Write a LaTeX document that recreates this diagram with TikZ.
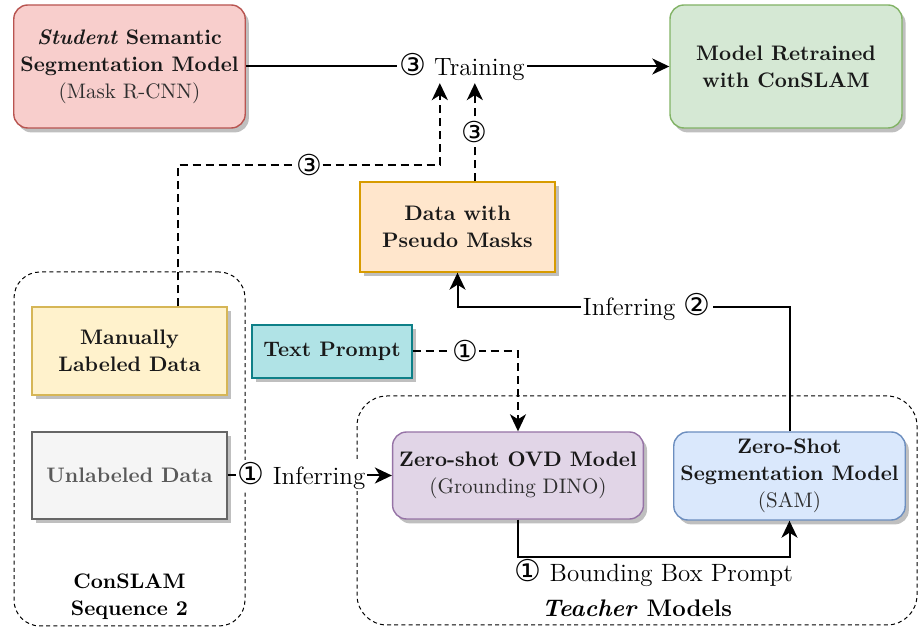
\documentclass[tikz,border=0pt]{standalone}
\usepackage{fontspec}
\newfontfamily\circfont[Scale=1.2]{DejaVu Sans}
\usepackage{tikz}
\usetikzlibrary{arrows.meta,calc,positioning,shadows}

\definecolor{redfill}{HTML}{F8CECC}
\definecolor{redline}{HTML}{B85450}
\definecolor{greenfill}{HTML}{D5E8D4}
\definecolor{greenline}{HTML}{82B366}
\definecolor{orangefill}{HTML}{FFE6CC}
\definecolor{orangeline}{HTML}{D79B00}
\definecolor{yellowfill}{HTML}{FFF2CC}
\definecolor{yellowline}{HTML}{D6B656}
\definecolor{grayfill}{HTML}{F5F5F5}
\definecolor{grayline}{HTML}{666666}
\definecolor{tealfill}{HTML}{B0E3E6}
\definecolor{tealline}{HTML}{0E8088}
\definecolor{purplefill}{HTML}{E1D5E7}
\definecolor{purpleline}{HTML}{9673A6}
\definecolor{bluefill}{HTML}{DAE8FC}
\definecolor{blueline}{HTML}{6C8EBF}

\newcommand{\circone}{{\circfont ①}}
\newcommand{\circtwo}{{\circfont ②}}
\newcommand{\circthree}{{\circfont ③}}

\begin{document}
\begin{tikzpicture}[x=0.5pt,y=-0.5pt,
  box/.style={draw, line width=0.7pt, align=center, font=\fontsize{10.5}{13.5}\selectfont\bfseries, text=black!90,
    drop shadow={shadow xshift=1.8pt, shadow yshift=-2.2pt, fill=black!25, opacity=1}},
  rbox/.style={box, rounded corners=7pt},
  group/.style={draw, dash pattern=on 2pt off 1.6pt, line width=0.5pt, inner sep=0pt},
  flow/.style={line width=1pt, -{Stealth[length=8.5pt,width=8pt,inset=2.5pt]}},
  dflow/.style={flow, dash pattern=on 4pt off 2.5pt},
  num/.style={fill=white, inner sep=0.3pt, font=\large},
  lbl/.style={fill=white, inner sep=1pt, font=\fontsize{12.5}{15}\selectfont}]

  \useasboundingbox (0,0) rectangle (918,630);

  % groups
  \node[group, rounded corners=13pt, minimum width=115.5pt, minimum height=177pt] (conslam) at (129.5,449) {};
  \node[font=\fontsize{10.5}{13.5}\selectfont\bfseries, align=center, above=0pt of conslam.south] (conslamlbl) {ConSLAM\\Sequence 2};
  \node[group, rounded corners=15pt, minimum width=280pt, minimum height=114.5pt] (teacher) at (637,510.5) {};
  \node[font=\large\bfseries, above=1pt of teacher.south] (teacherlbl) {\textit{Teacher} Models};

  % boxes
  \node[rbox, fill=redfill, draw=redline, minimum width=115.5pt, minimum height=61.5pt] (student) at (129.5,66.5)
    {\textit{Student} Semantic\\Segmentation Model\\{\mdseries\color{black!82}(Mask R-CNN)}};
  \node[rbox, fill=greenfill, draw=greenline, minimum width=116pt, minimum height=61.5pt] (retrained) at (786,66.5)
    {Model Retrained\\with ConSLAM};
  \node[box, fill=orangefill, draw=orangeline, minimum width=97.5pt, minimum height=45pt] (data) at (457.5,227)
    {Data with\\Pseudo Masks};
  \node[box, fill=yellowfill, draw=yellowline, minimum width=97.5pt, minimum height=44pt] (manual) at (129.5,351)
    {Manually\\Labeled Data};
  \node[box, fill=grayfill, draw=grayline, text=black!65, minimum width=97.5pt, minimum height=43.5pt] (unlabeled) at (129.5,475.5)
    {Unlabeled Data};
  \node[box, fill=tealfill, draw=tealline, minimum width=80pt, minimum height=26.5pt] (prompt) at (332,351.5)
    {Text Prompt};
  \node[rbox, fill=purplefill, draw=purpleline, minimum width=125pt, minimum height=43.5pt] (ovd) at (518,475.5)
    {Zero-shot OVD Model\\{\mdseries\color{black!82}(Grounding DINO)}};
  \node[rbox, fill=bluefill, draw=blueline, minimum width=115.5pt, minimum height=44pt] (sam) at (789.5,476)
    {Zero-Shot\\Segmentation Model\\{\mdseries\color{black!82}(SAM)}};

  % connectors
  \draw[flow] (student) -- node[lbl, pos=0.51] (train) {\circthree{} Training} (retrained);

  \coordinate (turn3) at (178,165);
  \coordinate (tin1) at ($(train.south)+(-22,0)$);
  \coordinate (tin2) at ($(train.south)+(13,0)$);
  \draw[dflow] (manual.north -| turn3) -- (turn3) -- node[num] {\circthree} (turn3 -| tin1) -- (tin1);
  \draw[dflow] (data.north -| tin2) -- node[num] {\circthree} (tin2);

  \draw[dflow] (prompt.east) -| node[num, pos=0.25] {\circone} (ovd.north);
  \draw[flow] (unlabeled.east) -- node[lbl, pos=0.45] {\circone{} Inferring} (ovd.west);
  \draw[flow] (ovd.south) -- ++(0,37) coordinate (bbox) -| node[pos=0.25, below, inner sep=1pt, font=\fontsize{12.5}{15}\selectfont] {\circone{} Bounding Box Prompt} (sam.south);

  \coordinate (turn2) at (624,307);
  \draw[flow] (sam.north) -- (sam.north |- turn2) -- node[lbl, pos=0.43] {Inferring \circtwo} (data.south |- turn2) -- (data.south);

\end{tikzpicture}
\end{document}
